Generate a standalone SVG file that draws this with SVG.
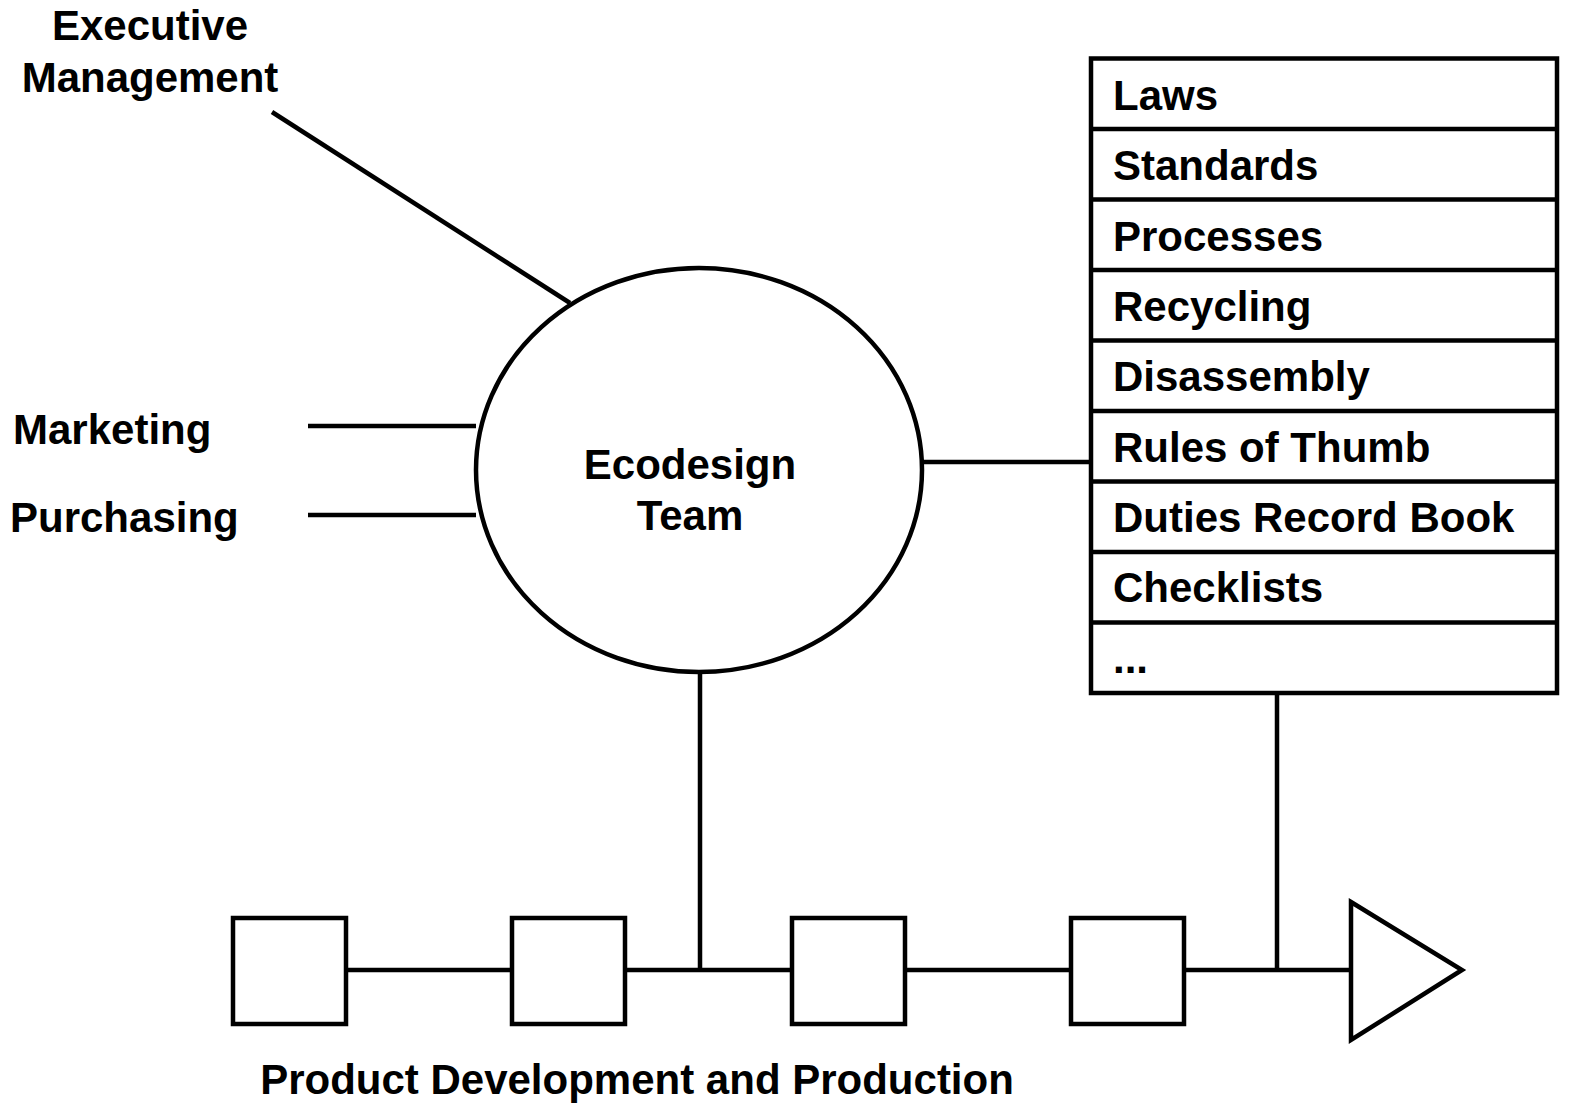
<svg xmlns="http://www.w3.org/2000/svg" width="1575" height="1107" viewBox="0 0 1575 1107">
<style>
.s{fill:none;stroke:#000;stroke-width:4.5}
.b{fill:#fff;stroke:#000;stroke-width:4.5}
.t{font-family:"Liberation Sans",Arial,sans-serif;font-weight:bold;font-size:42px;fill:#000}
.c{text-anchor:middle}
</style>
<rect width="1575" height="1107" fill="#fff"/>
<g id="connectors">
<line class="s" x1="272" y1="112" x2="570" y2="303"/>
<line class="s" x1="308" y1="426" x2="476" y2="426"/>
<line class="s" x1="308" y1="515" x2="476" y2="515"/>
<line class="s" x1="923" y1="462" x2="1091" y2="462"/>
<line class="s" x1="700" y1="672" x2="700" y2="970"/>
<line class="s" x1="1277" y1="693" x2="1277" y2="970"/>
<line class="s" x1="346" y1="970" x2="1351" y2="970"/>
</g>
<g id="executive-management">
<text class="t c" x="150" y="40">Executive</text>
<text class="t c" x="150" y="92">Management</text>
</g>
<g id="marketing"><text class="t" x="13" y="444">Marketing</text></g>
<g id="purchasing"><text class="t" x="10" y="532">Purchasing</text></g>
<g id="ecodesign-team">
<ellipse class="b" cx="699" cy="470" rx="223" ry="202"/>
<text class="t c" x="690" y="479">Ecodesign</text>
<text class="t c" x="690" y="530">Team</text>
</g>
<g id="knowledge-list">
<rect class="b" x="1091" y="58.5" width="466" height="634.5"/>
<line class="s" x1="1091" y1="129" x2="1557" y2="129"/>
<line class="s" x1="1091" y1="199.5" x2="1557" y2="199.5"/>
<line class="s" x1="1091" y1="270" x2="1557" y2="270"/>
<line class="s" x1="1091" y1="340.5" x2="1557" y2="340.5"/>
<line class="s" x1="1091" y1="411" x2="1557" y2="411"/>
<line class="s" x1="1091" y1="481.5" x2="1557" y2="481.5"/>
<line class="s" x1="1091" y1="552" x2="1557" y2="552"/>
<line class="s" x1="1091" y1="622.5" x2="1557" y2="622.5"/>
<text class="t" x="1113" y="110">Laws</text>
<text class="t" x="1113" y="180">Standards</text>
<text class="t" x="1113" y="251">Processes</text>
<text class="t" x="1113" y="321">Recycling</text>
<text class="t" x="1113" y="391">Disassembly</text>
<text class="t" x="1113" y="462">Rules of Thumb</text>
<text class="t" x="1113" y="532">Duties Record Book</text>
<text class="t" x="1113" y="602">Checklists</text>
<text class="t" x="1113" y="673">...</text>
</g>
<g id="step1"><rect class="b" x="233" y="918" width="113" height="106"/></g>
<g id="step2"><rect class="b" x="512" y="918" width="113" height="106"/></g>
<g id="step3"><rect class="b" x="792" y="918" width="113" height="106"/></g>
<g id="step4"><rect class="b" x="1071" y="918" width="113" height="106"/></g>
<g id="output"><polygon class="b" points="1351,902 1462,970 1351,1040"/></g>
<g id="process-label"><text class="t c" x="637" y="1094">Product Development and Production</text></g>
</svg>
